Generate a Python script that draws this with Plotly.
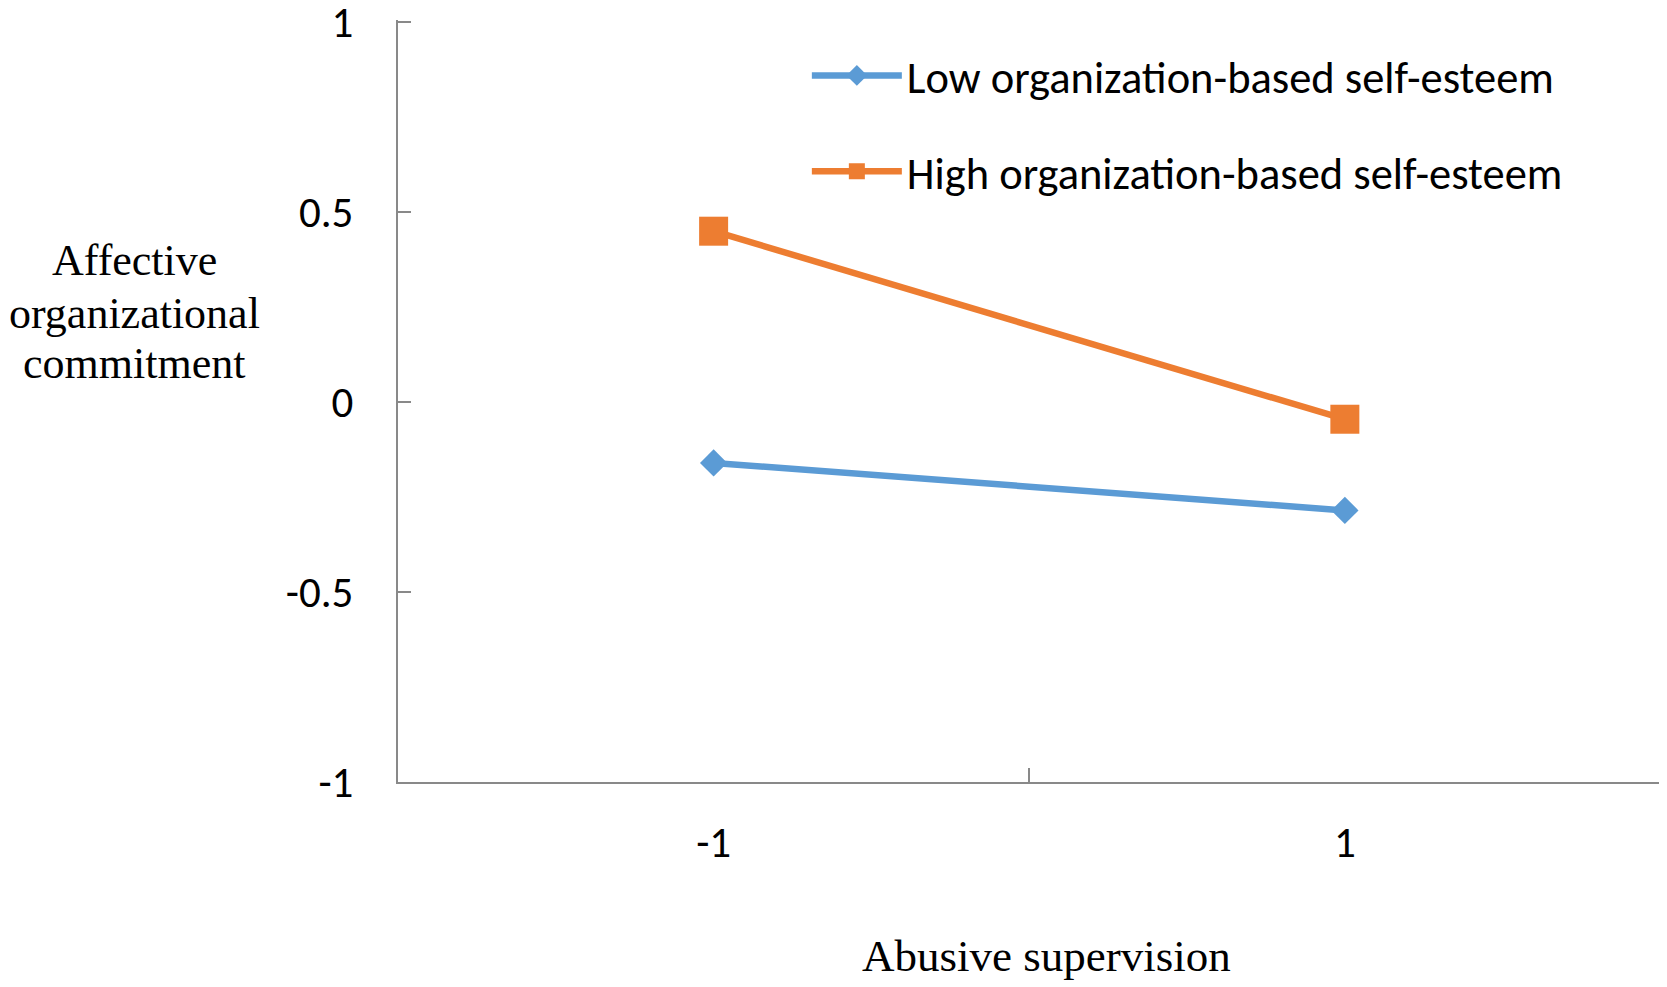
import plotly.graph_objects as go

# Data
categories = ["-1", "1"]
low_obse = [-0.16, -0.285]
high_obse = [0.45, -0.045]
series_names = ["Low organization-based self-esteem", "High organization-based self-esteem"]
y_ticks = [-1, -0.5, 0, 0.5, 1]
y_tick_labels = ["-1", "-0.5", "0", "0.5", "1"]
y_title_lines = ["Affective", "organizational", "commitment"]
x_title = "Abusive supervision"

BLUE = "#5B9BD5"
ORANGE = "#ED7D31"
AXIS = "#898989"
SANS = "Carlito, Lato, sans-serif"
SERIF = "Liberation Serif, Times New Roman, serif"

fig = go.Figure()
fig.add_trace(go.Scatter(
    x=categories, y=low_obse, name=series_names[0], mode="lines+markers",
    line=dict(color=BLUE, width=6.5),
    marker=dict(symbol="diamond", size=21, color=BLUE),
    legendgroup="low",
))
fig.add_trace(go.Scatter(
    x=categories, y=high_obse, name=series_names[1], mode="lines+markers",
    line=dict(color=ORANGE, width=6.5),
    marker=dict(symbol="square", size=29, color=ORANGE),
    legendgroup="high",
))

title_y = [0.6846, 0.6150, 0.5494]
annotations = [
    dict(text=t, xref="paper", yref="paper", x=-0.2086, y=yy,
         xanchor="center", yanchor="middle", showarrow=False,
         font=dict(family=SERIF, size=44, color="black"))
    for t, yy in zip(y_title_lines, title_y)
]
annotations.append(
    dict(text=x_title, xref="paper", yref="paper", x=0.513, y=-0.2286,
         xanchor="center", yanchor="middle", showarrow=False,
         font=dict(family=SERIF, size=45, color="black"))
)

fig.update_layout(
    width=1667, height=987,
    margin=dict(l=390, r=11.5, t=12, b=212.5, autoexpand=False),
    paper_bgcolor="white", plot_bgcolor="white",
    font=dict(family=SANS, size=43, color="black"),
    showlegend=True,
    legend=dict(
        x=0.3232, y=0.9738, xanchor="left", yanchor="top",
        font=dict(family=SANS, size=44.5, color="black"),
        itemwidth=90, tracegroupgap=35,
        bgcolor="rgba(0,0,0,0)",
    ),
    xaxis=dict(
        type="category", range=[-0.5, 1.504], tickson="boundaries",
        ticks="inside", ticklen=14, tickcolor=AXIS, tickwidth=1.5,
        showline=True, linecolor=AXIS, linewidth=2,
        showgrid=False, zeroline=False, automargin=False,
        tickfont=dict(family=SANS, size=43),
        ticklabelstandoff=21,
        ticklabeloverflow="allow",
    ),
    yaxis=dict(
        range=[-1, 1.006], tickvals=y_ticks, ticktext=y_tick_labels,
        ticks="inside", ticklen=13, tickcolor=AXIS, tickwidth=1.5,
        showline=True, linecolor=AXIS, linewidth=2,
        showgrid=False, zeroline=False, automargin=False,
        tickfont=dict(family=SANS, size=43),
        ticklabelstandoff=34,
        ticklabeloverflow="allow",
    ),
    annotations=annotations,
)

fig.write_html("out.html")
